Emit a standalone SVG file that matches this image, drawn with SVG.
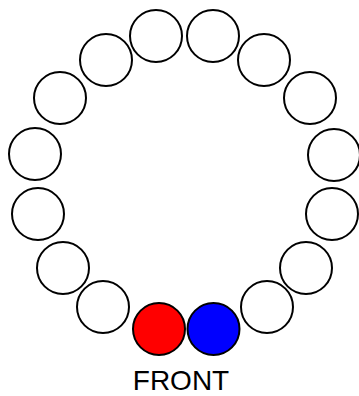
<svg xmlns="http://www.w3.org/2000/svg" width="359" height="396" viewBox="0 0 359 396">
<style>
.c{fill:#fff;stroke:#000;stroke-width:2}
.t{font-family:"Liberation Sans",Arial,sans-serif;font-size:28px;fill:#000}
</style>
<rect width="359" height="396" fill="#fff"/>
<g id="seats">
<g id="s1"><circle class="c" cx="156" cy="36" r="26"/></g>
<g id="s2"><circle class="c" cx="213" cy="36" r="26"/></g>
<g id="s3"><circle class="c" cx="106" cy="60" r="26"/></g>
<g id="s4"><circle class="c" cx="264" cy="60" r="26"/></g>
<g id="s5"><circle class="c" cx="60" cy="98" r="26"/></g>
<g id="s6"><circle class="c" cx="310" cy="98" r="26"/></g>
<g id="s7"><circle class="c" cx="35" cy="154" r="26"/></g>
<g id="s8"><circle class="c" cx="334" cy="155" r="26"/></g>
<g id="s9"><circle class="c" cx="38" cy="214" r="26"/></g>
<g id="s10"><circle class="c" cx="332" cy="214" r="26"/></g>
<g id="s11"><circle class="c" cx="63" cy="268" r="26"/></g>
<g id="s12"><circle class="c" cx="306" cy="268" r="26"/></g>
<g id="s13"><circle class="c" cx="103" cy="307" r="26"/></g>
<g id="s14"><circle class="c" cx="267" cy="307" r="26"/></g>
<g id="red"><circle cx="159" cy="329" r="26" fill="#f00" stroke="#000" stroke-width="2"/></g>
<g id="blue"><circle cx="213.5" cy="329" r="26" fill="#00f" stroke="#000" stroke-width="2"/></g>
</g>
<g id="connectors"/>
<text class="t" x="181" y="390" text-anchor="middle">FRONT</text>
</svg>
